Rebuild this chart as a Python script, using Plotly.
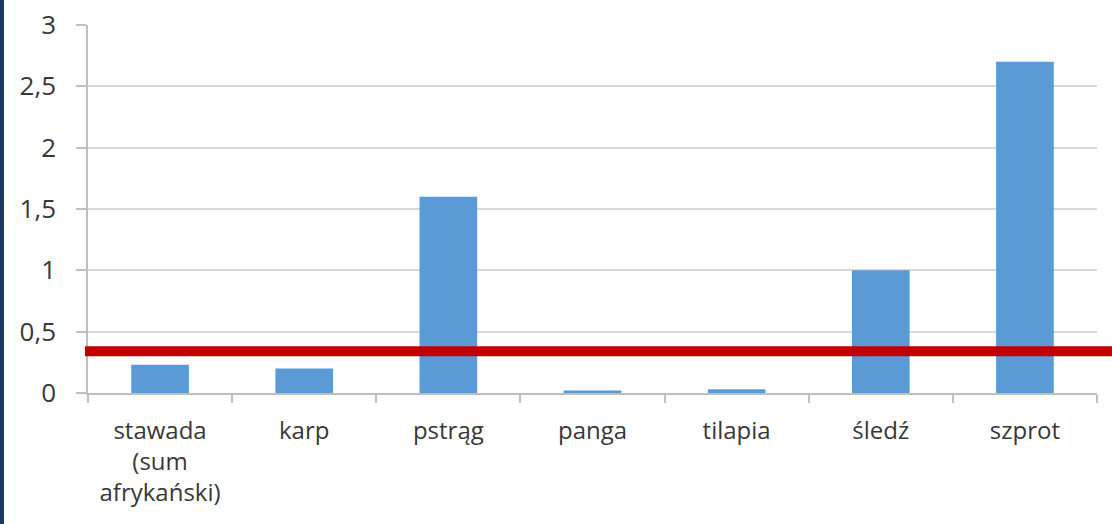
import plotly.graph_objects as go

categories = ["stawada<br>(sum<br>afrykański)", "karp", "pstrąg", "panga", "tilapia", "śledź", "szprot"]
values = [0.23, 0.2, 1.6, 0.02, 0.03, 1.0, 2.7]
threshold = 0.34
y_ticks = [0, 0.5, 1, 1.5, 2, 2.5, 3]
y_tick_labels = ["0", "0,5", "1", "1,5", "2", "2,5", "3"]

W, H = 1112, 524
L, R, T, B = 88, 15, 25, 131
pw = W - L - R
ph = H - T - B

fig = go.Figure()
fig.add_trace(go.Bar(
    x=categories, y=values,
    marker=dict(color="#5B9BD5", line=dict(width=0)),
    width=0.4,
))

fig.update_layout(
    width=W, height=H,
    margin=dict(l=L, r=R, t=T, b=B, pad=0, autoexpand=False),
    paper_bgcolor="white", plot_bgcolor="white",
    showlegend=False,
    font=dict(family="Open Sans", color="#383838"),
    xaxis=dict(
        showgrid=False, showline=True, linecolor="#BFBFBF", linewidth=1.5,
        ticks="outside", tickson="boundaries", ticklen=8, tickcolor="#BFBFBF", tickwidth=1.5,
        tickfont=dict(size=24, color="#383838", family="Open Sans"),
        ticklabelstandoff=15, automargin=False,
    ),
    yaxis=dict(
        range=[0, 3], tickvals=y_ticks, ticktext=y_tick_labels,
        showgrid=True, gridcolor="#D9D9D9", gridwidth=1.5,
        showline=True, linecolor="#BFBFBF", linewidth=1.5,
        ticks="outside", ticklen=10, tickcolor="#BFBFBF", tickwidth=1.5,
        tickfont=dict(size=26, color="#383838", family="Open Sans"),
        ticklabelstandoff=15, zeroline=False, automargin=False,
    ),
    shapes=[
        dict(type="line", xref="paper", yref="y",
             x0=(85 - L) / pw, x1=(W - L) / pw, y0=threshold, y1=threshold,
             line=dict(color="#C00000", width=10), layer="above"),
        dict(type="rect", xref="paper", yref="paper",
             x0=-L / pw, x1=(4 - L) / pw, y0=-B / ph, y1=1 + T / ph,
             fillcolor="#203864", line=dict(width=0), layer="above"),
    ],
)

fig.write_html(
    "out.html",
    config={"displayModeBar": False},
    post_script="document.body.style.margin='0';document.body.style.overflow='hidden';",
)
